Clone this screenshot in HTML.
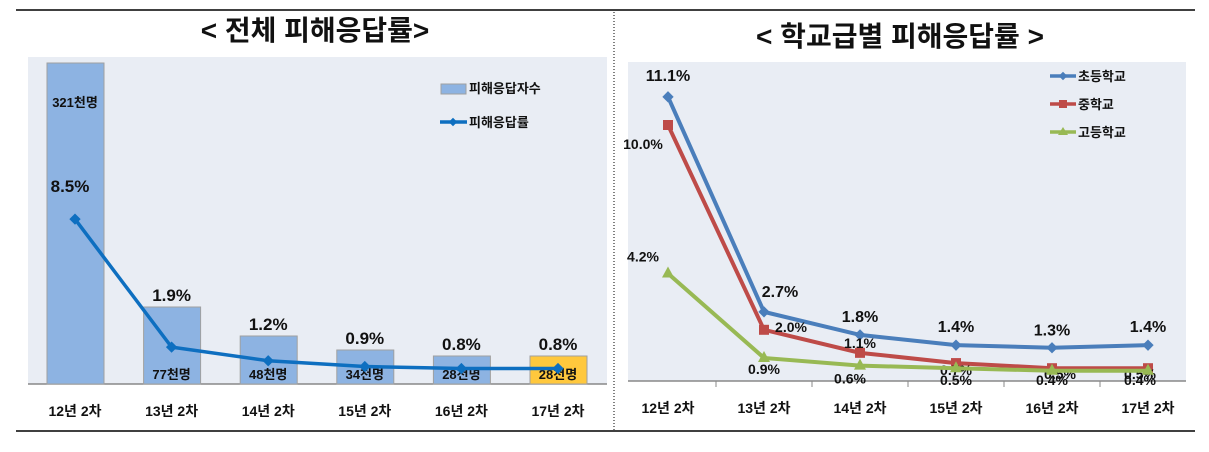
<!DOCTYPE html>
<html><head><meta charset="utf-8">
<style>
body{margin:0;background:#fff;font-family:"Liberation Sans","Noto Sans CJK KR",sans-serif;}
svg text{font-family:"Liberation Sans","Noto Sans CJK KR",sans-serif;font-weight:bold;fill:#111;}
</style></head>
<body>
<svg id="c" width="1209" height="447" viewBox="0 0 1209 447" xmlns="http://www.w3.org/2000/svg">
<line x1="16" y1="10" x2="1195" y2="10" stroke="#000" stroke-width="1.5"/>
<line x1="16" y1="431" x2="1195" y2="431" stroke="#000" stroke-width="1.5"/>
<line x1="614" y1="12" x2="614" y2="430" stroke="#000" stroke-dasharray="1,2"/>
<text x="315" y="40" font-size="28" text-anchor="middle">&lt; 전체 피해응답률&gt;</text>
<text x="900" y="46" font-size="28" text-anchor="middle">&lt; 학교급별 피해응답률 &gt;</text>
<rect x="28" y="57" width="579" height="327" fill="#e9edf4"/>
<rect x="628" y="62" width="558" height="319" fill="#e9edf4"/>
<g id="left"></g>
<g id="right"></g>
</svg>
<script>
const cats=["12년 2차","13년 2차","14년 2차","15년 2차","16년 2차","17년 2차"];
const counts=[321,77,48,34,28,28];
const countLabels=["321천명","77천명","48천명","34천명","28천명","28천명"];
const rates=[8.5,1.9,1.2,0.9,0.8,0.8];
const elem=[11.1,2.7,1.8,1.4,1.3,1.4];
const mid=[10.0,2.0,1.1,0.7,0.5,0.5];
const high=[4.2,0.9,0.6,0.5,0.4,0.4];
const NS="http://www.w3.org/2000/svg";
function mk(p,t,a){const e=document.createElementNS(NS,t);for(const k in a)e.setAttribute(k,a[k]);p.appendChild(e);return e;}
// left chart
const L=document.getElementById('left');
const lx=i=>75+i*96.6, lyC=v=>384-v*1.0, lyR=v=>384-v*19.4;
mk(L,'line',{x1:28,y1:384,x2:607,y2:384,stroke:'#888','stroke-width':1.5});
cats.forEach((c,i)=>{
 const b=mk(L,'rect',{x:lx(i)-28,y:lyC(counts[i]),width:57,height:384-lyC(counts[i]),fill:i==5?'#ffc83d':'#8db3e2',stroke:'#a0a0a0'});
 
 
 const t=mk(L,'text',{x:lx(i),y:i==0?107:379,'font-size':13,'text-anchor':'middle'});t.textContent=countLabels[i];
 
 
 const xl=mk(L,'text',{x:lx(i),y:416,'font-size':14,'text-anchor':'middle'});xl.textContent=c;
 
 
});
mk(L,'polyline',{points:rates.map((v,i)=>lx(i)+','+lyR(v)).join(' '),fill:'none',stroke:'#0e6fc0','stroke-width':3.5});
rates.forEach((v,i)=>{
 const m=mk(L,'rect',{x:lx(i)-4,y:lyR(v)-4,width:8,height:8,fill:'#0e6fc0',transform:`rotate(45 ${lx(i)} ${lyR(v)})`});
 
 
 const t=mk(L,'text',{x:i==0?lx(i)-5:lx(i),y:i==0?lyR(v)-27:lyC(counts[i])-6,'font-size':17,'text-anchor':'middle'});t.textContent=v.toFixed(1)+'%';
 
 
});
mk(L,'rect',{x:441,y:84,width:25,height:10,fill:'#8db3e2',stroke:'#a0a0a0'});
let t=mk(L,'text',{x:469,y:93,'font-size':13});t.textContent='피해응답자수';

mk(L,'line',{x1:440,y1:122,x2:467,y2:122,stroke:'#0e6fc0','stroke-width':3.5});
mk(L,'rect',{x:450,y:119,width:6,height:6,fill:'#0e6fc0',transform:'rotate(45 453 122)'});
t=mk(L,'text',{x:469,y:127,'font-size':13});t.textContent='피해응답률';

// right chart
const R=document.getElementById('right');
const rx=i=>668+i*96, ry=v=>381-v*25.6;
mk(R,'line',{x1:628,y1:381,x2:1186,y2:381,stroke:'#888','stroke-width':1.5});
cats.forEach((c,i)=>{
 if(i>0) mk(R,'line',{x1:rx(i)-48,y1:381,x2:rx(i)-48,y2:387,stroke:'#888'});
 const xl=mk(R,'text',{x:rx(i),y:413,'font-size':14,'text-anchor':'middle'});xl.textContent=c;
 
 
});
const series=[[elem,'#4a7ebb','d','초등학교'],[mid,'#be4b48','s','중학교'],[high,'#98b954','t','고등학교']];
const labOff={d:[[0,-16],[16,-15],[0,-13],[0,-13],[0,-12],[0,-13]],s:[[-25,24],[27,2],[0,-5],[0,12],[8,11],[-8,11]],t:[[-25,-12],[0,16],[-10,18],[0,17],[0,14],[-8,14]]};
series.forEach(([d,col,sh,name],si)=>{
 mk(R,'polyline',{points:d.map((v,i)=>rx(i)+','+ry(v)).join(' '),fill:'none',stroke:col,'stroke-width':4});
 d.forEach((v,i)=>{
  let m;
  if(sh=='d') m=mk(R,'rect',{x:rx(i)-4,y:ry(v)-4,width:8,height:8,fill:col,transform:`rotate(45 ${rx(i)} ${ry(v)})`});
  else if(sh=='s') m=mk(R,'rect',{x:rx(i)-5,y:ry(v)-5,width:10,height:10,fill:col});
  else m=mk(R,'polygon',{points:`${rx(i)},${ry(v)-7} ${rx(i)-6},${ry(v)+4} ${rx(i)+6},${ry(v)+4}`,fill:col});
  
  
  const o=labOff[sh][i];
  const tt=mk(R,'text',{x:rx(i)+o[0],y:ry(v)+o[1],'font-size':sh=='d'?16:14,'text-anchor':'middle'});tt.textContent=v.toFixed(1)+'%';
  
  
 });
 const ly=76+si*28;
 mk(R,'line',{x1:1050,y1:ly,x2:1076,y2:ly,stroke:col,'stroke-width':3.5});
 if(sh=='d') mk(R,'rect',{x:1060,y:ly-3,width:6,height:6,fill:col,transform:`rotate(45 1063 ${ly})`});
 else if(sh=='s') mk(R,'rect',{x:1059,y:ly-4,width:8,height:8,fill:col});
 else mk(R,'polygon',{points:`1063,${ly-5} 1058,${ly+3} 1068,${ly+3}`,fill:col});
 const lt=mk(R,'text',{x:1078,y:ly+5,'font-size':13});lt.textContent=name;
 
 
});
</script>
</body></html>
